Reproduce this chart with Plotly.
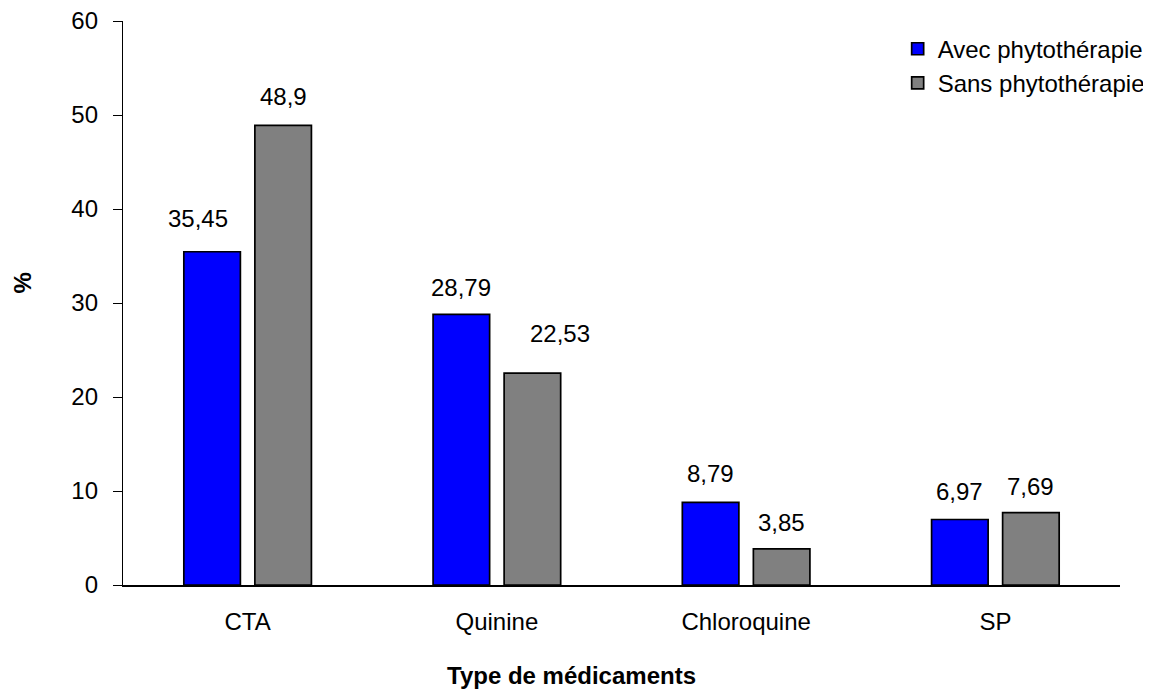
import plotly.graph_objects as go

categories = ["CTA", "Quinine", "Chloroquine", "SP"]
avec = [35.45, 28.79, 8.79, 6.97]
sans = [48.9, 22.53, 3.85, 7.69]
avec_labels = ["35,45", "28,79", "8,79", "6,97"]
sans_labels = ["48,9", "22,53", "3,85", "7,69"]
y_ticks = [0, 10, 20, 30, 40, 50, 60]

# label tweaks (pixels) relative to a centred label above each bar
avec_dx = [-14, 0, 0, 0]
avec_gap = [24, 17, 19, 18]
sans_dx = [0, 28, 0, 0]
sans_gap = [19, 30, 17, 17]

# page has an 8px body margin, so the figure is offset by 8px
W, H = 1143, 681
ML, MR, MT, MB = 114.5, 31, 13, 104
BARGAP = 0.43
FONT = "Liberation Sans, Arial, sans-serif"

fig = go.Figure()
fig.add_trace(go.Bar(x=categories, y=avec, name="Avec phytothérapie",
                     marker=dict(color="#0000FF", line=dict(color="black", width=1.7))))
fig.add_trace(go.Bar(x=categories, y=sans, name="Sans phytothérapie",
                     marker=dict(color="#808080", line=dict(color="black", width=1.7))))

plot_w = W - ML - MR
slot = plot_w / len(categories) * (1 - BARGAP) / 2
annotations = []
for i, c in enumerate(categories):
    annotations.append(dict(x=c, y=avec[i], xref="x", yref="y", text=avec_labels[i],
                            showarrow=False, yanchor="bottom", xanchor="center",
                            xshift=-slot / 2 + avec_dx[i], yshift=avec_gap[i] - 6,
                            font=dict(size=24, color="black", family=FONT)))
    annotations.append(dict(x=c, y=sans[i], xref="x", yref="y", text=sans_labels[i],
                            showarrow=False, yanchor="bottom", xanchor="center",
                            xshift=slot / 2 + sans_dx[i], yshift=sans_gap[i] - 6,
                            font=dict(size=24, color="black", family=FONT)))

annotations.append(dict(x=0.4496, y=-0.161, xref="paper", yref="paper",
                        text="<b>Type de médicaments</b>", showarrow=False,
                        xanchor="center", yanchor="middle",
                        font=dict(size=24, color="black", family=FONT)))
annotations.append(dict(x=-0.1008, y=0.5355, xref="paper", yref="paper",
                        text="<b>%</b>", showarrow=False, textangle=-90,
                        xanchor="center", yanchor="middle",
                        font=dict(size=24, color="black", family=FONT)))

fig.update_layout(
    width=W, height=H,
    margin=dict(l=ML, r=MR, t=MT, b=MB, pad=0, autoexpand=False),
    paper_bgcolor="white", plot_bgcolor="white",
    barmode="group", bargap=BARGAP, bargroupgap=0.204,
    font=dict(family=FONT, size=24, color="black"),
    showlegend=True,
    legend=dict(x=0.777, y=0.99, xanchor="left", yanchor="top",
                bgcolor="rgba(0,0,0,0)", font=dict(size=24, color="black", family=FONT),
                tracegroupgap=0),
    annotations=annotations,
)
fig.update_xaxes(showline=True, linecolor="black", linewidth=2, ticks="",
                 showgrid=False, zeroline=False, ticklabelstandoff=14, automargin=False,
                 tickfont=dict(size=24, color="black", family=FONT))
fig.update_yaxes(range=[0, 60], tickvals=y_ticks, showline=True, linecolor="black",
                 linewidth=1.3, ticks="outside", ticklen=9, tickwidth=1.3,
                 tickcolor="black", showgrid=False, zeroline=False, automargin=False,
                 ticklabelstandoff=10, ticklabeloverflow="allow",
                 tickfont=dict(size=24, color="black", family=FONT))

fig.write_html("out.html")
